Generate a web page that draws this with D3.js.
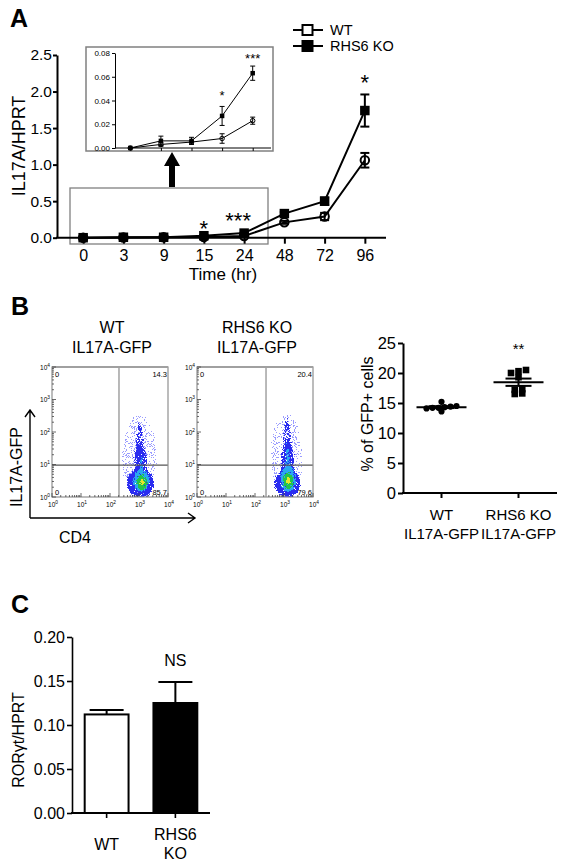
<!DOCTYPE html>
<html><head><meta charset="utf-8">
<script src="https://cdn.jsdelivr.net/npm/d3@7"></script>
<style>
body{margin:0;background:#fff}
svg{display:block}
text{font-family:"Liberation Sans",Arial,Helvetica,sans-serif;fill:#000}
</style>
</head><body>
<svg id="c" width="577" height="866"></svg>
<script>
// ================= DATA =================
// Panel A : IL17A/HPRT time course
const timeLabels = ["0","3","9","15","24","48","72","96"];
const wtMean = [0, 0.003, 0.005, 0.008, 0.023, 0.21, 0.29, 1.06];
const wtErr  = [0, 0.0015, 0.0015, 0.004, 0.003, 0.02, 0.05, 0.10];
const koMean = [0, 0.006, 0.006, 0.027, 0.063, 0.33, 0.50, 1.74];
const koErr  = [0, 0.004, 0.003, 0.008, 0.006, 0.02, 0.05, 0.22];
const seriesNames = ["WT", "RHS6 KO"];
const mainYTicks = [0, 0.5, 1.0, 1.5, 2.0, 2.5];
const insetTimes = ["0","3","9","15","24"];
const insetYTicks = [0, 0.02, 0.04, 0.06, 0.08];
const mainSigTime  = ["15", "24", "96"];
const mainSigLabel = ["*", "***", "*"];
const mainSigLevel = [0.20, 0.31, 2.19];
const insetSigTime  = ["15", "24"];
const insetSigLabel = ["*", "***"];
const insetSigLevel = [0.047, 0.078];

// Panel B : flow plots
const flowTitles = [["WT","IL17A-GFP"], ["RHS6 KO","IL17A-GFP"]];
const flowQuadrants = [["0","14.3","0","85.7"], ["0","20.4","0","79.6"]];
const flowGateX = [2.31, 2.38];   // log10 CD4
const flowGateY = [0.98, 0.98];   // log10 GFP
const flowDecades = [0, 1, 2, 3, 4];
// density regions: [log CD4, log GFP, radius CD4, radius GFP, density level, fill density]
const wtCloud = [
  [3.02, 1.20, 0.66, 1.40, 0, 0.72],
  [3.05, 0.42, 0.52, 0.48, 1, 0.94],
  [3.05, 1.10, 0.28, 0.60, 1, 0.88],
  [3.03, 1.75, 0.18, 0.50, 1, 0.80],
  [3.00, 2.30, 0.12, 0.28, 1, 0.70],
  [3.08, 0.50, 0.34, 0.38, 2, 0.92],
  [3.07, 1.00, 0.13, 0.34, 2, 0.80],
  [3.10, 0.45, 0.23, 0.28, 3, 1.00],
  [3.10, 0.45, 0.12, 0.16, 4, 1.00],
  [3.12, 0.48, 0.05, 0.07, 5, 1.00]
];
const koCloud = [
  [3.10, 1.25, 0.62, 1.40, 0, 0.72],
  [3.12, 0.42, 0.50, 0.48, 1, 0.94],
  [3.12, 1.10, 0.28, 0.65, 1, 0.88],
  [3.12, 1.80, 0.19, 0.52, 1, 0.80],
  [3.10, 2.35, 0.12, 0.30, 1, 0.70],
  [3.14, 0.55, 0.32, 0.44, 2, 0.92],
  [3.13, 1.10, 0.14, 0.42, 2, 0.84],
  [3.12, 1.60, 0.09, 0.28, 2, 0.74],
  [3.15, 0.50, 0.22, 0.30, 3, 1.00],
  [3.15, 0.50, 0.12, 0.17, 4, 1.00],
  [3.16, 0.50, 0.05, 0.07, 5, 1.00]
];
const densityColors = ["#9a9cff", "#2a2cf0", "#2aa8f0", "#22c44c", "#e6e62a", "#f07828"];

// Panel B : % GFP+ cells
const gfpGroups = ["WT\nIL17A-GFP", "RHS6 KO\nIL17A-GFP"];
const wtGfp = [14.3, 14.1, 14.2, 15.2, 13.6, 14.2, 14.4, 14.5];
const koGfp = [20.5, 20.0, 20.3, 19.3, 17.3, 16.5, 16.6, 17.2];
const gfpTicks = [0, 5, 10, 15, 20, 25];
const gfpSigLabel = "**";
const gfpSigLevel = 24.7;

// Panel C : RORγt/HPRT
const rorCats = ["WT", "RHS6\nKO"];
const rorMean = [0.112, 0.125];
const rorErr  = [0.005, 0.024];
const rorTicks = [0, 0.05, 0.10, 0.15, 0.20];
const rorSigLabel = "NS";
const rorSigLevel = 0.174;

// ================= DRAWING =================
const FONT = '"Liberation Sans", Arial, Helvetica, sans-serif';
const svg = d3.select("#c").attr("font-family", FONT);
const defs = svg.append("defs");

function styleAxis(g, fs, sw) {
  g.attr("font-size", fs).attr("font-family", FONT);
  g.selectAll("path, line").attr("stroke", "#000").attr("stroke-width", sw);
  g.selectAll("text").attr("fill", "#000");
}
function multiLine(g, x, cy, label, fs, lh) {
  const lines = label.split("\n");
  const t = g.append("text").attr("text-anchor", "middle").attr("font-size", fs);
  lines.forEach((l, k) => {
    t.append("tspan").attr("x", x)
      .attr("y", cy - (lines.length - 1) * lh / 2 + k * lh + 0.36 * fs).text(l);
  });
}
function panelLabel(t, x, y) {
  svg.append("text").attr("x", x).attr("y", y).attr("font-size", 25)
    .attr("font-weight", "bold").text(t);
}
function drawSeries(g, xs, ys, times, mean, err, opt) {
  const pts = times.map((t, i) => ({ t, m: mean[i], e: err[i] }));
  g.append("path").datum(pts)
    .attr("d", d3.line().x(d => xs(d.t)).y(d => ys(d.m)))
    .attr("fill", "none").attr("stroke", "#000").attr("stroke-width", opt.lw);
  const eb = g.append("g").attr("stroke", "#000").attr("stroke-width", opt.ew);
  pts.forEach(d => {
    if (!d.e) return;
    const x = xs(d.t), y1 = ys(d.m - d.e), y2 = ys(d.m + d.e);
    eb.append("line").attr("x1", x).attr("x2", x).attr("y1", y1).attr("y2", y2);
    eb.append("line").attr("x1", x - opt.cap).attr("x2", x + opt.cap).attr("y1", y1).attr("y2", y1);
    eb.append("line").attr("x1", x - opt.cap).attr("x2", x + opt.cap).attr("y1", y2).attr("y2", y2);
  });
  if (opt.shape === "square") {
    g.selectAll(null).data(pts).join("rect")
      .attr("x", d => xs(d.t) - opt.size / 2).attr("y", d => ys(d.m) - opt.size / 2)
      .attr("width", opt.size).attr("height", opt.size).attr("fill", "#000");
  } else {
    g.selectAll(null).data(pts).join("circle")
      .attr("cx", d => xs(d.t)).attr("cy", d => ys(d.m)).attr("r", opt.size / 2)
      .attr("fill", "none").attr("stroke", "#000").attr("stroke-width", opt.mw);
  }
}

panelLabel("A", 10, 27);
panelLabel("B", 11, 315);
panelLabel("C", 11, 613);

// ---------- Panel A ----------
const A = { x0: 57, x1: 386, yTop: 55, yBot: 237.7 };
const xA = d3.scalePoint(timeLabels, [59, 389]).padding(0.6);
const yA = d3.scaleLinear([0, 2.5], [A.yBot, A.yTop]);
const gA = svg.append("g");

// zoom box around the early time points
gA.append("rect").attr("x", 70).attr("y", 188).attr("width", 198).attr("height", 56)
  .attr("fill", "none").attr("stroke", "#808080").attr("stroke-width", 1.3);

gA.append("g").attr("transform", `translate(${A.x0},0)`)
  .call(d3.axisLeft(yA).tickValues(mainYTicks).tickFormat(d3.format(".1f"))
    .tickSize(4).tickSizeOuter(0).tickPadding(1))
  .call(g => styleAxis(g, 15.5, 2));
const xAx = gA.append("g").attr("transform", `translate(0,${A.yBot})`)
  .call(d3.axisBottom(xA).tickSize(6).tickPadding(6))
  .call(g => styleAxis(g, 16, 2));
xAx.select(".domain").remove();
gA.append("line").attr("x1", A.x0 - 1).attr("x2", A.x1).attr("y1", A.yBot).attr("y2", A.yBot)
  .attr("stroke", "#000").attr("stroke-width", 2);

drawSeries(gA, xA, yA, timeLabels, wtMean, wtErr, { lw: 2, ew: 2, cap: 4.5, shape: "circle", size: 8.5, mw: 2 });
drawSeries(gA, xA, yA, timeLabels, koMean, koErr, { lw: 2, ew: 2, cap: 4.5, shape: "square", size: 9.5 });

mainSigTime.forEach((t, i) => {
  gA.append("text").attr("x", xA(t) + (mainSigLabel[i].length > 1 ? -6 : 0))
    .attr("y", yA(mainSigLevel[i]) + 0.58 * 22)
    .attr("text-anchor", "middle").attr("font-size", 22).text(mainSigLabel[i]);
});

gA.append("text").attr("x", 223).attr("y", 280).attr("text-anchor", "middle")
  .attr("font-size", 17).text("Time (hr)");
gA.append("text").attr("transform", "translate(25,146) rotate(-90)")
  .attr("text-anchor", "middle").attr("font-size", 18).text("IL17A/HPRT");

// legend
const legY = [30, 46];
seriesNames.forEach((n, i) => {
  const g = svg.append("g");
  g.append("line").attr("x1", 293).attr("x2", 323).attr("y1", legY[i]).attr("y2", legY[i])
    .attr("stroke", "#000").attr("stroke-width", 2);
  g.append("rect").attr("x", 302.5).attr("y", legY[i] - 5).attr("width", 10).attr("height", 10)
    .attr("fill", i ? "#000" : "#fff").attr("stroke", "#000").attr("stroke-width", 2);
  g.append("text").attr("x", 330).attr("y", legY[i] + 5.2).attr("font-size", 14.5).text(n);
});

// inset
gA.append("rect").attr("x", 86).attr("y", 47).attr("width", 187).attr("height", 104)
  .attr("fill", "#fff").attr("stroke", "#808080").attr("stroke-width", 1.5);
const xI = d3.scalePoint(insetTimes, [115, 268]).padding(0.5);
const yI = d3.scaleLinear([0, 0.08], [148, 53]);
gA.append("g").attr("transform", "translate(115,0)")
  .call(d3.axisLeft(yI).tickValues(insetYTicks).tickFormat(d3.format(".2f"))
    .tickSize(3).tickSizeOuter(0).tickPadding(2))
  .call(g => styleAxis(g, 8, 1));
const xIx = gA.append("g").attr("transform", "translate(0,148)")
  .call(d3.axisBottom(xI).tickSize(3).tickFormat(""))
  .call(g => styleAxis(g, 8, 1));
xIx.select(".domain").remove();
gA.append("line").attr("x1", 115).attr("x2", 271).attr("y1", 148).attr("y2", 148)
  .attr("stroke", "#000").attr("stroke-width", 1);
drawSeries(gA, xI, yI, insetTimes, wtMean.slice(0, 5), wtErr.slice(0, 5), { lw: 1, ew: 1, cap: 2.5, shape: "circle", size: 4.5, mw: 1 });
drawSeries(gA, xI, yI, insetTimes, koMean.slice(0, 5), koErr.slice(0, 5), { lw: 1, ew: 1, cap: 2.5, shape: "square", size: 4.5 });
insetSigTime.forEach((t, i) => {
  gA.append("text").attr("x", xI(t)).attr("y", yI(insetSigLevel[i]) + 0.58 * 13)
    .attr("text-anchor", "middle").attr("font-size", 13).text(insetSigLabel[i]);
});

// arrow from box to inset
gA.append("path").attr("d", "M169,187 L175,187 L175,166 L180,166 L172,152 L164,166 L169,166 Z")
  .attr("fill", "#000");

// ---------- Panel B : flow plots ----------
const FLOW = { w: 116, h: 130, top: 367, lefts: [52, 197] };
const clouds = [wtCloud, koCloud];

// speckle filters (one per density colour)
densityColors.forEach((col, k) => {
  const f = defs.append("filter").attr("id", "spk" + k)
    .attr("filterUnits", "userSpaceOnUse").attr("x", 0).attr("y", 0)
    .attr("width", 577).attr("height", 866)
    .attr("color-interpolation-filters", "sRGB");
  f.append("feGaussianBlur").attr("in", "SourceAlpha").attr("stdDeviation", 1.8).attr("result", "soft");
  f.append("feTurbulence").attr("type", "fractalNoise").attr("baseFrequency", 1.1)
    .attr("numOctaves", 1).attr("seed", 3 + k * 7).attr("result", "noise");
  f.append("feColorMatrix").attr("in", "noise").attr("type", "matrix")
    .attr("values", "0 0 0 0 0  0 0 0 0 0  0 0 0 0 0  1 0 0 0 0").attr("result", "n");
  f.append("feComposite").attr("in", "soft").attr("in2", "n").attr("operator", "arithmetic")
    .attr("k1", 0).attr("k2", 1).attr("k3", 0.9).attr("k4", -0.75).attr("result", "sum");
  const ct = f.append("feComponentTransfer").attr("in", "sum").attr("result", "thr");
  ct.append("feFuncA").attr("type", "discrete").attr("tableValues", "0 1");
  f.append("feFlood").attr("flood-color", col).attr("result", "fl");
  f.append("feComposite").attr("in", "fl").attr("in2", "thr").attr("operator", "in");
});

FLOW.lefts.forEach((left, i) => {
  const g = svg.append("g");
  const xF = d3.scaleLinear([0, 4], [left, left + FLOW.w]);
  const yF = d3.scaleLinear([0, 4], [FLOW.top + FLOW.h, FLOW.top]);
  const cx = left + FLOW.w / 2;

  // title
  multiLine(g, cx + 2, 337, flowTitles[i].join("\n"), 16, 20);

  // clip
  defs.append("clipPath").attr("id", "fc" + i).append("rect")
    .attr("x", left).attr("y", FLOW.top).attr("width", FLOW.w).attr("height", FLOW.h);

  // density layers
  const dg = g.append("g").attr("clip-path", `url(#fc${i})`);
  densityColors.forEach((col, lvl) => {
    const layer = dg.append("g").attr("filter", `url(#spk${lvl})`);
    layer.selectAll("ellipse").data(clouds[i].filter(d => d[4] === lvl)).join("ellipse")
      .attr("cx", d => xF(d[0])).attr("cy", d => yF(d[1]))
      .attr("rx", d => xF(d[0] + d[2]) - xF(d[0]))
      .attr("ry", d => yF(d[1]) - yF(d[1] + d[3]))
      .attr("fill", "#000").attr("fill-opacity", d => d[5]);
  });

  // gates
  g.append("line").attr("x1", xF(flowGateX[i])).attr("x2", xF(flowGateX[i]))
    .attr("y1", FLOW.top).attr("y2", FLOW.top + FLOW.h).attr("stroke", "#8a8a8a").attr("stroke-width", 1.2);
  g.append("line").attr("x1", left).attr("x2", left + FLOW.w)
    .attr("y1", yF(flowGateY[i])).attr("y2", yF(flowGateY[i])).attr("stroke", "#555").attr("stroke-width", 1.2);

  // frame
  g.append("rect").attr("x", left).attr("y", FLOW.top).attr("width", FLOW.w).attr("height", FLOW.h)
    .attr("fill", "none").attr("stroke", "#909090").attr("stroke-width", 1.2);
  g.append("line").attr("x1", left).attr("x2", left + FLOW.w).attr("y1", FLOW.top).attr("y2", FLOW.top)
    .attr("stroke", "#a0a0a0").attr("stroke-width", 2.2);

  // ticks
  const tg = g.append("g").attr("stroke", "#444").attr("stroke-width", 0.8);
  flowDecades.forEach(d => {
    tg.append("line").attr("x1", xF(d)).attr("x2", xF(d)).attr("y1", FLOW.top + FLOW.h).attr("y2", FLOW.top + FLOW.h - 4);
    tg.append("line").attr("x1", left).attr("x2", left + 4).attr("y1", yF(d)).attr("y2", yF(d));
    if (d < 4) d3.range(2, 10).forEach(k => {
      const v = d + Math.log10(k);
      tg.append("line").attr("x1", xF(v)).attr("x2", xF(v)).attr("y1", FLOW.top + FLOW.h).attr("y2", FLOW.top + FLOW.h - 2);
      tg.append("line").attr("x1", left).attr("x2", left + 2).attr("y1", yF(v)).attr("y2", yF(v));
    });
    const ty = g.append("text").attr("x", left - 2).attr("y", yF(d) + 2.5)
      .attr("text-anchor", "end").attr("font-size", 6.5).attr("fill", "#333");
    ty.append("tspan").text("10");
    ty.append("tspan").attr("font-size", 4.8).attr("dy", -3).text(d);
    const tx = g.append("text").attr("x", xF(d) + 1).attr("y", FLOW.top + FLOW.h + 10)
      .attr("text-anchor", "middle").attr("font-size", 6.5).attr("fill", "#333");
    tx.append("tspan").text("10");
    tx.append("tspan").attr("font-size", 4.8).attr("dy", -3).text(d);
  });

  // quadrant numbers
  const q = flowQuadrants[i];
  const qs = [[left + 3, FLOW.top + 10, "start"], [left + FLOW.w - 1, FLOW.top + 10, "end"],
              [left + 3, FLOW.top + FLOW.h - 2, "start"], [left + FLOW.w - 1, FLOW.top + FLOW.h - 2, "end"]];
  qs.forEach((p, k) => g.append("text").attr("x", p[0]).attr("y", p[1]).attr("text-anchor", p[2])
    .attr("font-size", 7.5).attr("fill", "#333").text(q[k]));
});

// axis arrows
const arr = svg.append("g").attr("stroke", "#000").attr("stroke-width", 1.4).attr("fill", "none");
arr.append("path").attr("d", "M30,518 V410 M25,417 L30,410 L35,417");
arr.append("path").attr("d", "M30,518 H195 M188,513 L195,518 L188,523");
svg.append("text").attr("transform", "translate(22,467) rotate(-90)").attr("text-anchor", "middle")
  .attr("font-size", 16).text("IL17A-GFP");
svg.append("text").attr("x", 75).attr("y", 543).attr("text-anchor", "middle")
  .attr("font-size", 16).text("CD4");

// ---------- Panel B : scatter ----------
const S = { x0: 403, x1: 557, yTop: 343, yBot: 493 };
const xS = d3.scalePoint(gfpGroups, [S.x0, S.x1]).padding(0.5);
const yS = d3.scaleLinear([0, 25], [S.yBot, S.yTop]);
const gS = svg.append("g");
gS.append("g").attr("transform", `translate(${S.x0},0)`)
  .call(d3.axisLeft(yS).tickValues(gfpTicks).tickSize(5).tickSizeOuter(0).tickPadding(2))
  .call(g => styleAxis(g, 16.5, 2));
gS.append("line").attr("x1", S.x0 - 1).attr("x2", S.x1).attr("y1", S.yBot).attr("y2", S.yBot)
  .attr("stroke", "#000").attr("stroke-width", 2);
gfpGroups.forEach(grp => {
  gS.append("line").attr("x1", xS(grp)).attr("x2", xS(grp)).attr("y1", S.yBot).attr("y2", S.yBot + 5)
    .attr("stroke", "#000").attr("stroke-width", 2);
  multiLine(gS, xS(grp), 523.7, grp, 15, 19);
});

function columnOffsets(vals, bin, spacing) {
  const off = new Array(vals.length);
  const groups = d3.group(vals.map((v, i) => ({ v, i })), d => Math.floor(d.v / bin));
  for (const [, arr2] of groups) {
    arr2.sort((a, b) => a.v - b.v);
    arr2.forEach((d, k) => off[d.i] = (k - (arr2.length - 1) / 2) * spacing);
  }
  return off;
}
const gfpSets = [wtGfp, koGfp];
gfpSets.forEach((vals, gi) => {
  const cx = xS(gfpGroups[gi]);
  const off = columnOffsets(vals, 1, gi ? 7.5 : 6);
  if (gi === 0) {
    gS.selectAll(null).data(vals).join("circle")
      .attr("cx", (d, i) => cx + off[i]).attr("cy", d => yS(d)).attr("r", 3.1).attr("fill", "#000");
  } else {
    gS.selectAll(null).data(vals).join("rect")
      .attr("x", (d, i) => cx + off[i] - 3.3).attr("y", d => yS(d) - 3.3)
      .attr("width", 6.6).attr("height", 6.6).attr("fill", "#000");
  }
  const m = d3.mean(vals), se = d3.deviation(vals) / Math.sqrt(vals.length);
  const lg = gS.append("g").attr("stroke", "#000").attr("stroke-width", 2);
  lg.append("line").attr("x1", cx - 25).attr("x2", cx + 25).attr("y1", yS(m)).attr("y2", yS(m));
  lg.append("line").attr("x1", cx).attr("x2", cx).attr("y1", yS(m - se)).attr("y2", yS(m + se));
  lg.append("line").attr("x1", cx - 13).attr("x2", cx + 13).attr("y1", yS(m - se)).attr("y2", yS(m - se));
  lg.append("line").attr("x1", cx - 13).attr("x2", cx + 13).attr("y1", yS(m + se)).attr("y2", yS(m + se));
});
gS.append("text").attr("x", xS(gfpGroups[1])).attr("y", yS(gfpSigLevel) + 0.58 * 15)
  .attr("text-anchor", "middle").attr("font-size", 15).text(gfpSigLabel);
gS.append("text").attr("transform", "translate(373,414) rotate(-90)").attr("text-anchor", "middle")
  .attr("font-size", 16).text("% of GFP+ cells");

// ---------- Panel C ----------
const C = { x0: 72, x1: 210, yTop: 637, yBot: 813 };
const xC = d3.scaleBand(rorCats, [C.x0, C.x1]).paddingInner(0.333).paddingOuter(0.17);
const yC = d3.scaleLinear([0, 0.2], [C.yBot, C.yTop]);
const gC = svg.append("g");
rorCats.forEach((c, i) => {
  const cx = xC(c) + xC.bandwidth() / 2;
  const top = yC(rorMean[i] + rorErr[i]);
  gC.append("line").attr("x1", cx).attr("x2", cx).attr("y1", yC(rorMean[i])).attr("y2", top)
    .attr("stroke", "#000").attr("stroke-width", 2);
  gC.append("line").attr("x1", cx - 17).attr("x2", cx + 17).attr("y1", top).attr("y2", top)
    .attr("stroke", "#000").attr("stroke-width", 2);
});
gC.selectAll(null).data(rorCats).join("rect")
  .attr("x", d => xC(d) + 1).attr("width", xC.bandwidth() - 2)
  .attr("y", (d, i) => yC(rorMean[i])).attr("height", (d, i) => C.yBot - yC(rorMean[i]))
  .attr("fill", (d, i) => i ? "#000" : "#fff").attr("stroke", "#000").attr("stroke-width", 2);
gC.append("g").attr("transform", `translate(${C.x0},0)`)
  .call(d3.axisLeft(yC).tickValues(rorTicks).tickFormat(d3.format(".2f")).tickSize(5).tickSizeOuter(0).tickPadding(2))
  .call(g => styleAxis(g, 16, 1.6));
gC.append("line").attr("x1", C.x0 - 1).attr("x2", C.x1).attr("y1", C.yBot).attr("y2", C.yBot)
  .attr("stroke", "#000").attr("stroke-width", 2);
rorCats.forEach(c => {
  const cx = xC(c) + xC.bandwidth() / 2;
  gC.append("line").attr("x1", cx).attr("x2", cx).attr("y1", C.yBot).attr("y2", C.yBot + 5)
    .attr("stroke", "#000").attr("stroke-width", 1.6);
  multiLine(gC, cx, 844, c, 16, 19);
});
gC.append("text").attr("x", xC(rorCats[1]) + xC.bandwidth() / 2).attr("y", yC(rorSigLevel) + 0.36 * 16)
  .attr("text-anchor", "middle").attr("font-size", 16).text(rorSigLabel);
gC.append("text").attr("transform", "translate(24,740) rotate(-90)").attr("text-anchor", "middle")
  .attr("font-size", 16).text("RORγt/HPRT");
</script>
</body></html>
